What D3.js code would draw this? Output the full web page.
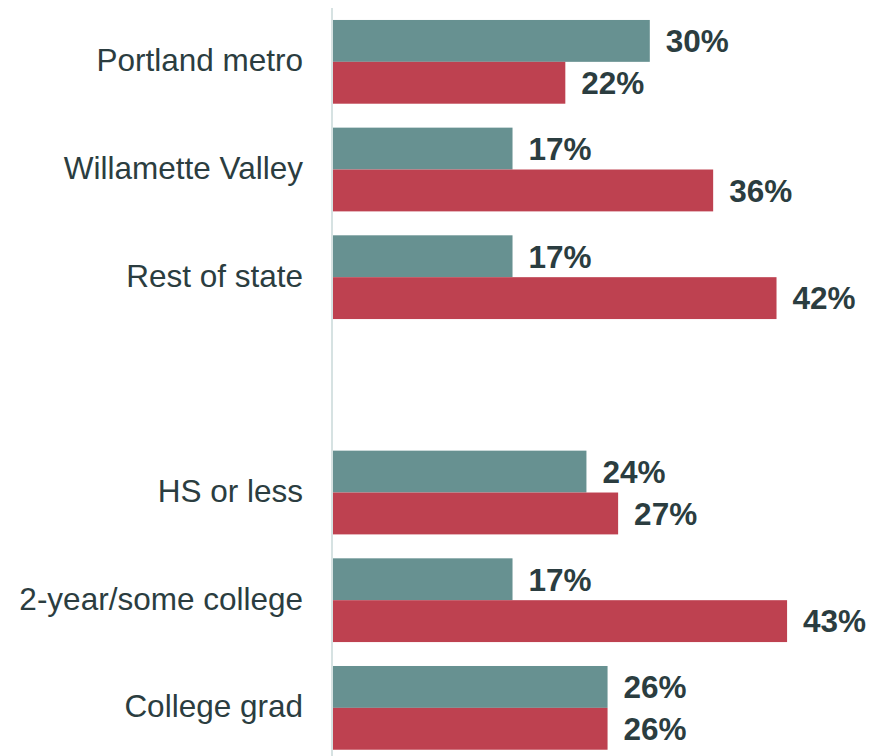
<!DOCTYPE html>
<html>
<head>
<meta charset="utf-8">
<script src="https://cdn.jsdelivr.net/npm/d3@7"></script>
<style>
  body { margin: 0; background: #fff; }
  svg { display: block; font-family: "Liberation Sans", Arial, sans-serif; }
</style>
</head>
<body>
<div id="chart"></div>
<script>
// categories, with one empty slot as the gap between the two groups
var categories = ["Portland metro", "Willamette Valley", "Rest of state", "",
  "HS or less", "2-year/some college", "College grad"];
var series_names = ["first", "second"];
var first_values = [30, 17, 17, null, 24, 17, 26];
var second_values = [22, 36, 42, null, 27, 43, 26];

var series_colors = ["#679191", "#be4150"];
var text_color = "#2b3d40";

var width = 871,
    height = 756;

var svg = d3.select("#chart")
  .append("svg")
  .attr("width", width)
  .attr("height", height);

var y = d3.scaleBand()
  .domain(d3.range(categories.length))
  .range([8, 761.7])
  .paddingInner(24 / 108)
  .paddingOuter(12 / 108);

var ySub = d3.scaleBand()
  .domain(series_names)
  .range([0, y.bandwidth()]);

var x = d3.scaleLinear()
  .domain([0, 100])
  .range([333, 333 + 1056]);

// flatten into one list of bars
var bars = [];
for (var i = 0; i < categories.length; i++) {
  if (first_values[i] != null)
    bars.push({cat: i, series: series_names[0], value: first_values[i], color: series_colors[0]});
  if (second_values[i] != null)
    bars.push({cat: i, series: series_names[1], value: second_values[i], color: series_colors[1]});
}

svg.selectAll("rect.bar")
  .data(bars)
  .enter()
  .append("rect")
  .attr("class", "bar")
  .attr("x", x(0))
  .attr("y", d => y(d.cat) + ySub(d.series))
  .attr("width", d => x(d.value) - x(0))
  .attr("height", ySub.bandwidth())
  .attr("fill", d => d.color);

svg.selectAll("text.value")
  .data(bars)
  .enter()
  .append("text")
  .attr("class", "value")
  .attr("x", d => x(d.value) + 16)
  .attr("y", d => y(d.cat) + ySub(d.series) + ySub.bandwidth() / 2 + 3)
  .attr("dominant-baseline", "middle")
  .attr("fill", text_color)
  .style("font-size", "31.5px")
  .style("font-weight", "bold")
  .text(d => d.value + "%");

// category labels
svg.selectAll("text.cat")
  .data(categories)
  .enter()
  .append("text")
  .attr("class", "cat")
  .attr("x", 303)
  .attr("y", (d, i) => y(i) + y.bandwidth() / 2 + 1)
  .attr("text-anchor", "end")
  .attr("dominant-baseline", "middle")
  .attr("fill", text_color)
  .style("font-size", "31.5px")
  .text(d => d);

// axis line
svg.append("line")
  .attr("x1", x(0) - 1)
  .attr("x2", x(0) - 1)
  .attr("y1", 8)
  .attr("y2", height)
  .attr("stroke", "#d6e2e2")
  .attr("stroke-width", 2);
</script>
</body>
</html>
